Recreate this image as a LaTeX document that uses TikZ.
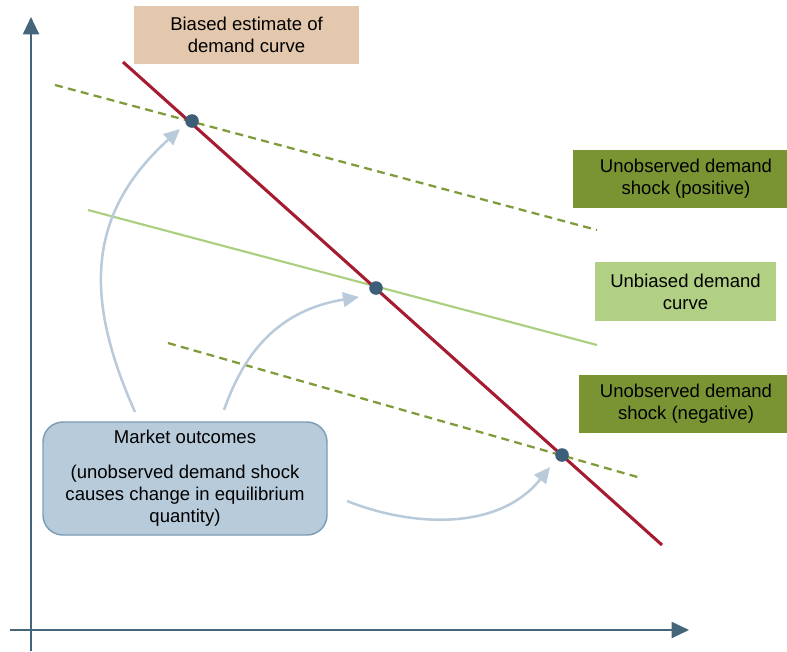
\documentclass[tikz,border=0pt]{standalone}
\usepackage{fontspec}
\setmainfont{Liberation Sans}
\usetikzlibrary{arrows.meta}

\definecolor{axiscol}{HTML}{45657A}
\definecolor{dotcol}{HTML}{3D5E78}
\definecolor{biasred}{HTML}{A51C30}
\definecolor{shockgreen}{HTML}{7F9B3A}
\definecolor{lightgreen}{HTML}{AACF80}
\definecolor{tanfill}{HTML}{E3C8AE}
\definecolor{olivefill}{HTML}{7A9434}
\definecolor{palegreenfill}{HTML}{B1D083}
\definecolor{marketfill}{HTML}{B8CBDA}
\definecolor{marketdraw}{HTML}{7C9DB5}
\definecolor{arrowcol}{HTML}{B9CBDA}

\tikzset{
  labeltext/.style={font=\fontsize{13.9}{16.5}\selectfont, align=center,
    inner sep=0pt, text=black},
  labelbox/.style={labeltext, rectangle, minimum width=#1},
  axisline/.style={draw=axiscol, line width=1.5pt,
    -{Triangle[length=13pt,width=12pt]}},
  demandred/.style={draw=biasred, line width=2.3pt},
  shockline/.style={draw=shockgreen, line width=1.7pt, dash pattern=on 6pt off 4pt},
  unbiasedline/.style={draw=lightgreen, line width=1.6pt},
  eqdot/.style={circle, fill=dotcol, minimum size=10.2pt, inner sep=0pt},
  outcomearrow/.style={draw=arrowcol, line width=1.9pt,
    -{Triangle[length=12pt,width=11pt]}},
}

\begin{document}
\begin{tikzpicture}[x=0.75pt,y=-0.75pt]
  \useasboundingbox (0,0) rectangle (787,651);

  % axes
  \coordinate (yaxbot) at (31,651);
  \coordinate (yaxtop) at (31,17);
  \coordinate (xaxleft) at (10,630);
  \coordinate (xaxright) at (689,630);
  \draw[axisline] (yaxbot) -- (yaxtop);
  \draw[axisline] (xaxleft) -- (xaxright);

  % demand curves and shock lines
  \coordinate (posA) at (55,85);
  \coordinate (posB) at (597,230);
  \coordinate (unbA) at (88,210);
  \coordinate (unbB) at (597,345);
  \coordinate (negA) at (168,343);
  \coordinate (negB) at (641,478);
  \coordinate (redA) at (123,62);
  \coordinate (redB) at (662,545);
  \draw[shockline] (posA) -- (posB);
  \draw[unbiasedline] (unbA) -- (unbB);
  \draw[shockline] (negA) -- (negB);
  \draw[demandred] (redA) -- (redB);

  % equilibrium points
  \node[eqdot] (eqhigh) at (192,121) {};
  \node[eqdot] (eqmid) at (376,288) {};
  \node[eqdot] (eqlow) at (562,455) {};

  % label boxes (the two shock boxes run past the right page edge)
  \node[labelbox=168.75pt, minimum height=43.5pt, fill=tanfill] (biased) at (246.5,35)
    {Biased estimate of\\demand curve};
  \node[labelbox=169.5pt, minimum height=43.5pt, fill=olivefill] (shockpos) at (686,179)
    {Unobserved demand\\shock (positive)};
  \node[labelbox=135.75pt, minimum height=44.25pt, fill=palegreenfill] (unbiased) at (685.5,291.5)
    {Unbiased demand\\curve};
  \node[labelbox=160.5pt, minimum height=43.5pt, fill=olivefill] (shockneg) at (686,404)
    {Unobserved demand\\shock (negative)};

  % market outcomes box
  \node[labeltext, rectangle, rounded corners=15pt, fill=marketfill, draw=marketdraw,
        line width=1.1pt, minimum width=213pt, minimum height=84.75pt] (market) at (185,478.5)
    {Market outcomes\\[9.5pt](unobserved demand shock\\causes change in equilibrium\\quantity)};

  % arrows from market outcomes to equilibrium points
  \coordinate (mstartA) at (135,412);
  \coordinate (mstartB) at (224,410);
  \coordinate (mstartC) at (347,501);
  \coordinate (mtipA) at (180,129);
  \coordinate (mtipB) at (359,297);
  \coordinate (mtipC) at (550,467);
  \draw[outcomearrow] (mstartA) .. controls (85,300) and (85,215) .. (mtipA);
  \draw[outcomearrow] (mstartB) .. controls (245,350) and (280,310) .. (mtipB);
  \draw[outcomearrow] (mstartC) .. controls (415,528) and (500,530) .. (mtipC);
\end{tikzpicture}
\end{document}
